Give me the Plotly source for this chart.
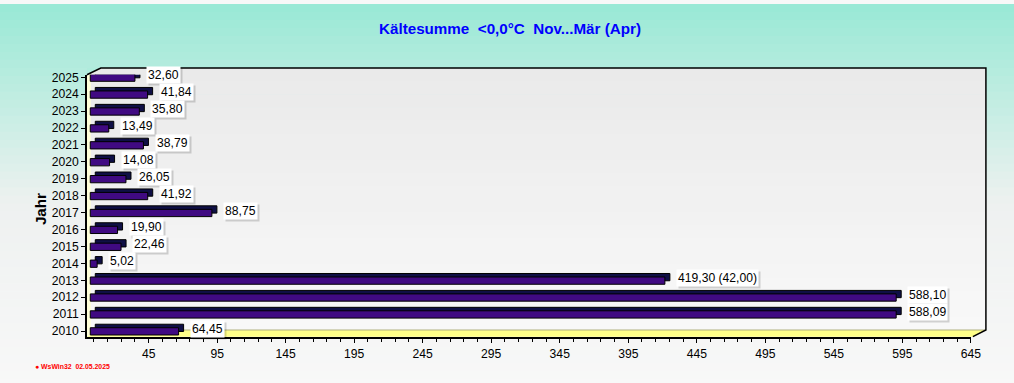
import plotly.graph_objects as go

# ---------------- data ----------------
years = [2025, 2024, 2023, 2022, 2021, 2020, 2019, 2018, 2017, 2016, 2015, 2014, 2013, 2012, 2011, 2010]
values = [32.60, 41.84, 35.80, 13.49, 38.79, 14.08, 26.05, 41.92, 88.75, 19.90, 22.46, 5.02, 419.30, 588.10, 588.09, 64.45]
extra = {2013: "42,00"}
x_ticks = [45, 95, 145, 195, 245, 295, 345, 395, 445, 495, 545, 595, 645]

title_text = "Kältesumme\u00a0\u00a0<0,0°C\u00a0\u00a0Nov...Mär\u00a0(Apr)"
y_title = "Jahr"
footer = "● WsWin32\u00a0\u00a002.05.2025"

# ---------------- geometry / style ----------------
W, H = 1014, 383               # design pixels (reference)
FW, FH = 1027, 388             # rendered figure size (capture region)
K = FW / W
def PX(x): return x / W
def PY(y): return 1 - y / H

FX0, FX1 = 86.7, 968.0        # front plane x pixel (0 .. 645)
FY_TOP, FY_BOT = 70.7, 332.7   # front plane y pixel
XMAX = 645
SCALE = (FX1 - FX0) / XMAX
ROW = 16.913
Y_LO = 2010 - (FY_BOT - 327.0) / ROW
Y_HI = 2025 + (73.3 - FY_TOP) / ROW
DX, DY = 13.8, 6.7             # depth offset of back wall
BX0, BY_TOP, BX1, BY_BOT = FX0 + DX, 64.0, 983.0, 326.0

BAR_SHIFT = 3.3 / SCALE        # bars sit a little behind the front plane
DEPTH = 5.0 / SCALE            # 3D depth of each bar
FRONT_COL = "#400a82"
TOP_COL = "#0f0f45"
FONT = "Liberation Sans, Arial"

def fmt(v):
    return f"{v:.2f}".replace(".", ",")

labels = [fmt(v) + (f" ({extra[y]})" if y in extra else "") for y, v in zip(years, values)]

fig = go.Figure()

# top/side (dark) faces
fig.add_trace(go.Bar(
    y=years, x=values, base=BAR_SHIFT + DEPTH, orientation="h",
    width=0.43, offset=-0.03,
    marker=dict(color=TOP_COL, line=dict(color="black", width=1)),
    xaxis="x2", yaxis="y2", hoverinfo="skip", showlegend=False))
# front faces
fig.add_trace(go.Bar(
    y=years, x=values, base=BAR_SHIFT, orientation="h",
    width=0.43, offset=-0.2365,
    marker=dict(color=FRONT_COL, line=dict(color="black", width=1)),
    xaxis="x2", yaxis="y2", hoverinfo="skip", showlegend=False))

shapes = []
# paper gradient
def lerp(a, b, t): return tuple(int(round(a[i] + (b[i] - a[i]) * t)) for i in range(3))
c0, c1, c2 = (152, 233, 213), (238, 241, 240), (248, 248, 248)
N = 48
for i in range(N):
    y0 = H * i / N
    y1 = H * (i + 1) / N + 0.5
    ym = (y0 + y1) / 2
    if ym < 200:
        c = lerp(c0, c1, ym / 200)
    else:
        c = lerp(c1, c2, (ym - 200) / (H - 200))
    shapes.append(dict(type="rect", xref="paper", yref="paper", layer="below",
                       x0=0, x1=1, y0=max(PY(y1), 0), y1=PY(y0), line=dict(width=0),
                       fillcolor=f"rgb{c}"))

def path(pts, close=True):
    s = "M " + " L ".join(f"{PX(x):.5f},{PY(y):.5f}" for x, y in pts)
    return s + (" Z" if close else "")

# back wall gradient
NB = 20
for i in range(NB):
    y0 = BY_TOP + (BY_BOT - BY_TOP) * i / NB
    y1 = BY_TOP + (BY_BOT - BY_TOP) * (i + 1) / NB + 0.5
    c = lerp((234, 234, 234), (248, 248, 248), i / (NB - 1))
    shapes.append(dict(type="rect", xref="paper", yref="paper", layer="below",
                       x0=PX(FX0), x1=PX(BX1), y0=PY(min(y1, FY_BOT)), y1=PY(y0),
                       line=dict(width=0), fillcolor=f"rgb{c}"))
# left wall
shapes.append(dict(type="path", xref="paper", yref="paper", layer="below",
                   path=path([(FX0, FY_TOP), (FX0 + 3.8, FY_TOP - 1.8), (FX0 + 3.8, FY_BOT), (FX0, FY_BOT)]),
                   fillcolor="#ffffd8", line=dict(width=0)))
# top-left corner triangle (paper colour)
shapes.append(dict(type="path", xref="paper", yref="paper", layer="below",
                   path=path([(FX0, FY_TOP), (BX0, BY_TOP), (FX0, BY_TOP)]),
                   fillcolor="rgb(175,236,220)", line=dict(width=0)))
# floor
shapes.append(dict(type="path", xref="paper", yref="paper", layer="below",
                   path=path([(FX0, FY_BOT), (BX0, BY_BOT), (BX1, BY_BOT), (FX1 + 2, FY_BOT)]),
                   fillcolor="#ffff88", line=dict(width=0)))
# outline
shapes.append(dict(type="path", xref="paper", yref="paper", layer="above",
                   path=path([(FX0, FY_TOP), (BX0, BY_TOP), (BX1, BY_TOP), (BX1, BY_BOT), (FX1 + 2, FY_BOT)], close=False),
                   line=dict(color="black", width=1.5)))
# floor back edge
shapes.append(dict(type="line", xref="paper", yref="paper", layer="below",
                   x0=PX(BX0), x1=PX(BX1), y0=PY(BY_BOT), y1=PY(BY_BOT),
                   line=dict(color="#b0b080", width=1)))
# image border
shapes.append(dict(type="line", xref="paper", yref="paper", layer="above",
                   x0=0, x1=1, y0=PY(H - 1.5), y1=PY(H - 1.5), line=dict(color="#a0a0a0", width=2)))
shapes.append(dict(type="line", xref="paper", yref="paper", layer="above",
                   x0=PX(W - 1.5), x1=PX(W - 1.5), y0=0, y1=1, line=dict(color="#a0a0a0", width=2)))

annotations = []
for y, v, lab in zip(years, values, labels):
    common = dict(xref="x2", yref="y2", x=v + BAR_SHIFT, y=y, xanchor="left", yanchor="middle",
                  showarrow=False, borderpad=1)
    annotations.append(dict(text=lab, xshift=13 * K, yshift=0, bgcolor="rgba(0,0,0,0.16)",
                            font=dict(family=FONT, size=12 * K, color="rgba(0,0,0,0)"),
                            **common))
    annotations.append(dict(text=lab, xshift=11 * K, yshift=2 * K, bgcolor="white",
                            font=dict(family=FONT, size=12 * K, color="black"),
                            **common))

annotations.append(dict(text=y_title, xref="paper", yref="paper", x=PX(40), y=PY(205),
                        textangle=-90, showarrow=False, xanchor="center", yanchor="middle",
                        font=dict(family=FONT, size=15 * K, color="black", weight="bold")))
annotations.append(dict(text=footer, xref="paper", yref="paper", x=PX(33), y=PY(362),
                        showarrow=False, xanchor="left", yanchor="middle",
                        font=dict(family=FONT, size=6.8 * K, color="#ff0000", weight="bold")))
annotations.append(dict(text=title_text, xref="paper", yref="paper", x=PX(508), y=PY(25),
                        showarrow=False, xanchor="center", yanchor="middle",
                        font=dict(family=FONT, size=15 * K, color="#0000ff", weight="bold")))

fig.update_layout(
    width=FW, height=FH, autosize=False,
    margin=dict(l=0, r=0, t=0, b=0, pad=0),
    paper_bgcolor="#f8f8f8", plot_bgcolor="rgba(0,0,0,0)",
    barmode="overlay", showlegend=False,
    shapes=shapes, annotations=annotations,
    # back wall grid
    xaxis=dict(domain=[PX(BX0), PX(BX1)], range=[0, (BX1 - BX0) / SCALE],
               tickmode="array", tickvals=x_ticks[:-1], showticklabels=False, ticks="",
               showgrid=True, gridcolor="#a8a8a8", griddash="5px,3px", gridwidth=1,
               zeroline=False, showline=False, anchor="y", fixedrange=True),
    yaxis=dict(domain=[PY(BY_BOT), PY(BY_TOP)],
               range=[2025.55 - (BY_BOT - BY_TOP) / ROW, 2025.55],
               tickmode="array", tickvals=[y + 0.5 for y in years[1:]], showticklabels=False, ticks="",
               showgrid=True, gridcolor="#a8a8a8", griddash="5px,3px", gridwidth=1,
               zeroline=False, showline=False, anchor="x", fixedrange=True),
    # front plane: bars and tick labels
    xaxis2=dict(domain=[PX(FX0), PX(FX1)], range=[0, XMAX], anchor="y2",
                tickmode="array", tickvals=x_ticks, ticks="outside", ticklen=5, tickcolor="black",
                minor=dict(tick0=5, dtick=10, ticks="outside", ticklen=4, tickcolor="black"),
                tickfont=dict(family=FONT, size=12 * K, color="black"),
                showgrid=False, zeroline=False, showline=True, linecolor="black", linewidth=1.5,
                fixedrange=True),
    yaxis2=dict(domain=[PY(FY_BOT), PY(FY_TOP)], range=[Y_LO, Y_HI], anchor="x2",
                tickmode="array", tickvals=years, ticktext=[str(y) for y in years],
                ticks="outside", ticklen=4, tickcolor="black",
                tickfont=dict(family=FONT, size=12 * K, color="black"),
                showgrid=False, zeroline=False, showline=True, linecolor="black", linewidth=1.5,
                fixedrange=True),
)

post_js = ("var s=document.createElement('style');"
           "s.innerHTML='html,body{margin:0;padding:0;background:#f8f8f8}';"
           "document.head.appendChild(s);")
fig.write_html("out.html", config={"displayModeBar": False}, post_script=post_js)
